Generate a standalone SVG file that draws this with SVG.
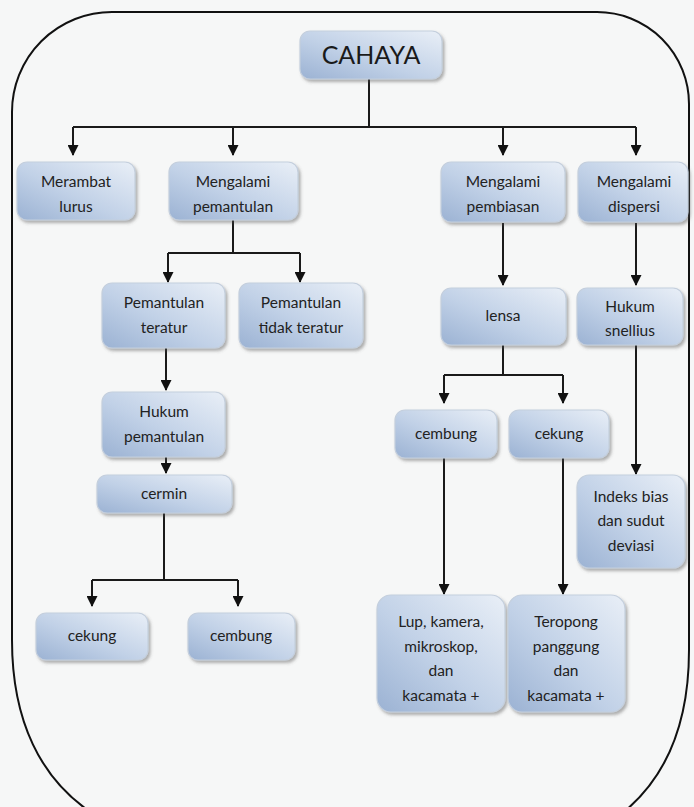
<svg xmlns="http://www.w3.org/2000/svg" width="694" height="807" viewBox="0 0 694 807">
  <defs>
    <linearGradient id="boxFill" x1="0" y1="1" x2="1" y2="0">
      <stop offset="0" stop-color="#9bb2d3"/>
      <stop offset="0.45" stop-color="#c1d1e7"/>
      <stop offset="1" stop-color="#e9eff7"/>
    </linearGradient>
    <filter id="shadow" x="-10%" y="-10%" width="125%" height="130%">
      <feDropShadow dx="2" dy="2.5" stdDeviation="1.5" flood-color="#555" flood-opacity="0.45"/>
    </filter>
    <marker id="arrow" markerUnits="userSpaceOnUse" markerWidth="11" markerHeight="11" refX="10" refY="5.5" orient="auto">
      <path d="M0,0 L11,5.5 L0,11 z" fill="#111"/>
    </marker>
  </defs>
  <style>
    .box { fill: url(#boxFill); stroke: #c4cfdd; stroke-width: 1.2; filter: url(#shadow); }
    .lbl { font-family: Lato, "Liberation Sans", sans-serif; font-size: 15.5px; fill: #222; text-anchor: middle; }
    .title { font-size: 25px; fill: #1a1a1a; }
    .wire { fill: none; stroke: #1a1a1a; stroke-width: 2; }
    .arr { fill: none; stroke: #1a1a1a; stroke-width: 2; marker-end: url(#arrow); }
  </style>

  <!-- page background and outer frame -->
  <rect x="0" y="0" width="694" height="807" fill="#f6f7f7"/>
  <path d="M95,815 C40,780 12,720 12,640 L12,112 A100,100 0 0 1 112,12 L597,12 A92,92 0 0 1 689,104 L689,650 C689,725 665,780 620,815" fill="none" stroke="#111" stroke-width="2"/>

  <!-- connectors -->
  <g id="connectors">
    <path class="wire" d="M369,79 V127 M73,127 H636"/>
    <path class="arr" d="M73,127 V155"/>
    <path class="arr" d="M233,127 V155"/>
    <path class="arr" d="M503,127 V155"/>
    <path class="arr" d="M636,127 V155"/>

    <path class="wire" d="M233,220 V253 M168,253 H300"/>
    <path class="arr" d="M168,253 V282"/>
    <path class="arr" d="M300,253 V282"/>

    <path class="arr" d="M166,348 V390"/>
    <path class="arr" d="M166,457 V473"/>

    <path class="wire" d="M164,513 V580 M92,580 H238"/>
    <path class="arr" d="M92,580 V606"/>
    <path class="arr" d="M238,580 V606"/>

    <path class="arr" d="M503,223 V285"/>
    <path class="arr" d="M636,223 V285"/>

    <path class="wire" d="M503,345 V375 M444,375 H563"/>
    <path class="arr" d="M444,375 V403"/>
    <path class="arr" d="M563,375 V403"/>

    <path class="arr" d="M444,458 V594"/>
    <path class="arr" d="M563,458 V594"/>
    <path class="arr" d="M636,345 V474"/>
  </g>

  <!-- nodes -->
  <g id="cahaya">
    <rect class="box" x="300" y="31" width="142" height="48" rx="10"/>
    <text class="lbl title" x="371" y="64">CAHAYA</text>
  </g>
  <g id="merambat">
    <rect class="box" x="17" y="162" width="118" height="58" rx="10"/>
    <text class="lbl" x="76" y="187">Merambat</text>
    <text class="lbl" x="76" y="212">lurus</text>
  </g>
  <g id="pemantulan">
    <rect class="box" x="169" y="162" width="129" height="58" rx="10"/>
    <text class="lbl" x="233" y="187">Mengalami</text>
    <text class="lbl" x="233" y="212">pemantulan</text>
  </g>
  <g id="pembiasan">
    <rect class="box" x="441" y="162" width="124" height="60" rx="10"/>
    <text class="lbl" x="503" y="187">Mengalami</text>
    <text class="lbl" x="503" y="212">pembiasan</text>
  </g>
  <g id="dispersi">
    <rect class="box" x="578" y="162" width="110" height="60" rx="10"/>
    <text class="lbl" x="634" y="187">Mengalami</text>
    <text class="lbl" x="634" y="212">dispersi</text>
  </g>
  <g id="pemantulan-teratur">
    <rect class="box" x="102" y="283" width="123" height="65" rx="10"/>
    <text class="lbl" x="164" y="308">Pemantulan</text>
    <text class="lbl" x="164" y="333">teratur</text>
  </g>
  <g id="pemantulan-tidak-teratur">
    <rect class="box" x="239" y="283" width="124" height="65" rx="10"/>
    <text class="lbl" x="301" y="308">Pemantulan</text>
    <text class="lbl" x="301" y="333">tidak teratur</text>
  </g>
  <g id="hukum-pemantulan">
    <rect class="box" x="102" y="392" width="123" height="65" rx="10"/>
    <text class="lbl" x="164" y="417">Hukum</text>
    <text class="lbl" x="164" y="442">pemantulan</text>
  </g>
  <g id="cermin">
    <rect class="box" x="97" y="475" width="135" height="38" rx="10"/>
    <text class="lbl" x="164" y="499">cermin</text>
  </g>
  <g id="cermin-cekung">
    <rect class="box" x="36" y="613" width="112" height="47" rx="10"/>
    <text class="lbl" x="92" y="641">cekung</text>
  </g>
  <g id="cermin-cembung">
    <rect class="box" x="188" y="613" width="107" height="47" rx="10"/>
    <text class="lbl" x="241" y="641">cembung</text>
  </g>
  <g id="lensa">
    <rect class="box" x="441" y="288" width="125" height="57" rx="10"/>
    <text class="lbl" x="503" y="321">lensa</text>
  </g>
  <g id="hukum-snellius">
    <rect class="box" x="577" y="288" width="106" height="57" rx="10"/>
    <text class="lbl" x="630" y="312">Hukum</text>
    <text class="lbl" x="630" y="336">snellius</text>
  </g>
  <g id="lensa-cembung">
    <rect class="box" x="395" y="410" width="102" height="48" rx="10"/>
    <text class="lbl" x="446" y="439">cembung</text>
  </g>
  <g id="lensa-cekung">
    <rect class="box" x="509" y="410" width="100" height="48" rx="10"/>
    <text class="lbl" x="559" y="439">cekung</text>
  </g>
  <g id="indeks-bias">
    <rect class="box" x="577" y="475" width="108" height="93" rx="12"/>
    <text class="lbl" x="631" y="502">Indeks bias</text>
    <text class="lbl" x="631" y="526">dan sudut</text>
    <text class="lbl" x="631" y="551">deviasi</text>
  </g>
  <g id="lup-kamera">
    <rect class="box" x="377" y="595" width="128" height="117" rx="14"/>
    <text class="lbl" x="441" y="627">Lup, kamera,</text>
    <text class="lbl" x="441" y="652">mikroskop,</text>
    <text class="lbl" x="441" y="676">dan</text>
    <text class="lbl" x="441" y="701">kacamata +</text>
  </g>
  <g id="teropong">
    <rect class="box" x="508" y="595" width="117" height="117" rx="14"/>
    <text class="lbl" x="566" y="627">Teropong</text>
    <text class="lbl" x="566" y="652">panggung</text>
    <text class="lbl" x="566" y="676">dan</text>
    <text class="lbl" x="566" y="701">kacamata +</text>
  </g>
</svg>
